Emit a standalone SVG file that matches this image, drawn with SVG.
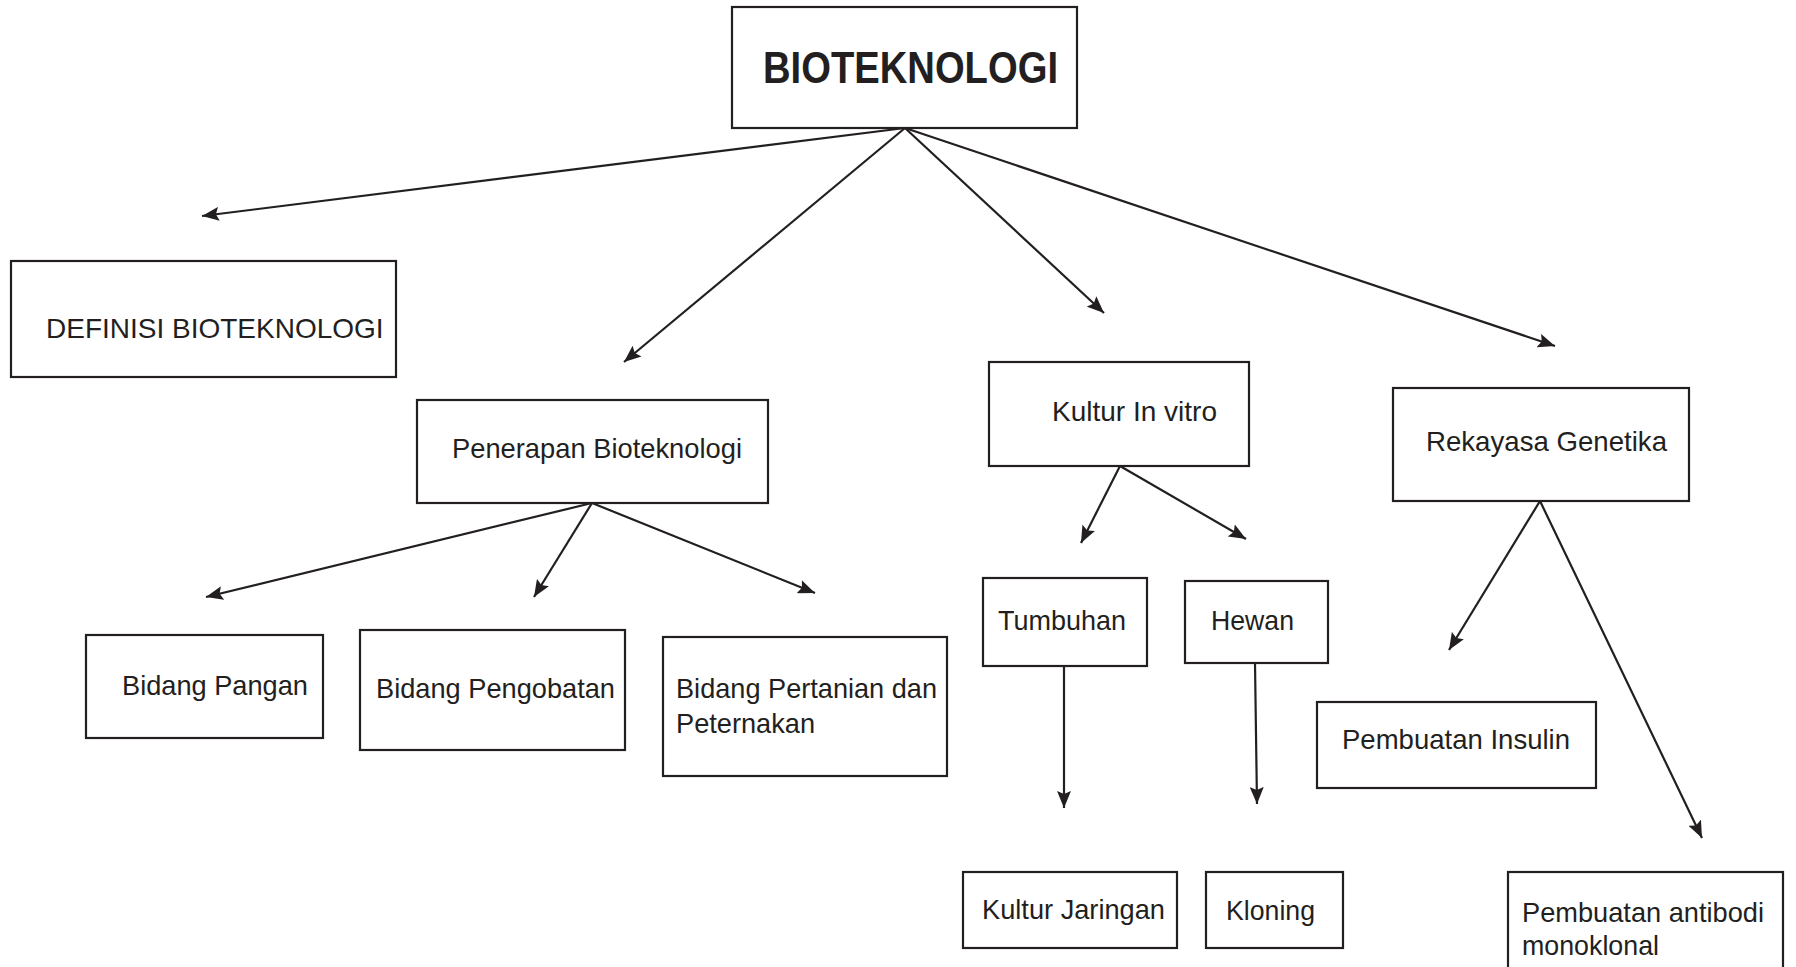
<svg xmlns="http://www.w3.org/2000/svg" width="1796" height="967" viewBox="0 0 1796 967">
<style>
.box{fill:#fff;stroke:#231f20;stroke-width:2.2}
.t{font-family:"Liberation Sans",Arial,sans-serif;font-size:28px;fill:#231f20}
.title{font-family:"Liberation Sans",Arial,sans-serif;font-size:44px;font-weight:bold;fill:#231f20}
.c line{stroke:#231f20;stroke-width:2.2;marker-end:url(#ah)}
</style>
<defs>
<marker id="ah" markerUnits="userSpaceOnUse" markerWidth="20" markerHeight="14" refX="17" refY="7" orient="auto">
<path d="M0,0 L17,7 L0,14 L3,7 z" fill="#231f20"/>
</marker>
</defs>
<rect width="1796" height="967" fill="#fff"/>
<g id="n-bio"><rect class="box" x="732" y="7" width="345" height="121"/><text class="title" x="763" y="83" textLength="295" lengthAdjust="spacingAndGlyphs">BIOTEKNOLOGI</text></g>
<g id="n-def"><rect class="box" x="11" y="261" width="385" height="116"/><text class="t" x="46" y="338">DEFINISI BIOTEKNOLOGI</text></g>
<g id="n-pen"><rect class="box" x="417" y="400" width="351" height="103"/><text class="t" x="452" y="458" textLength="290" lengthAdjust="spacingAndGlyphs">Penerapan Bioteknologi</text></g>
<g id="n-kiv"><rect class="box" x="989" y="362" width="260" height="104"/><text class="t" x="1052" y="421">Kultur In vitro</text></g>
<g id="n-rek"><rect class="box" x="1393" y="388" width="296" height="113"/><text class="t" x="1426" y="451" textLength="241" lengthAdjust="spacingAndGlyphs">Rekayasa Genetika</text></g>
<g id="n-pangan"><rect class="box" x="86" y="635" width="237" height="103"/><text class="t" x="122" y="695" textLength="186" lengthAdjust="spacingAndGlyphs">Bidang Pangan</text></g>
<g id="n-obat"><rect class="box" x="360" y="630" width="265" height="120"/><text class="t" x="376" y="698" textLength="239" lengthAdjust="spacingAndGlyphs">Bidang Pengobatan</text></g>
<g id="n-tani"><rect class="box" x="663" y="637" width="284" height="139"/><text class="t" x="676" y="698" textLength="261" lengthAdjust="spacingAndGlyphs">Bidang Pertanian dan</text><text class="t" x="676" y="733" textLength="139" lengthAdjust="spacingAndGlyphs">Peternakan</text></g>
<g id="n-tumb"><rect class="box" x="983" y="578" width="164" height="88"/><text class="t" x="998" y="630" textLength="128" lengthAdjust="spacingAndGlyphs">Tumbuhan</text></g>
<g id="n-hewan"><rect class="box" x="1185" y="581" width="143" height="82"/><text class="t" x="1211" y="630" textLength="83" lengthAdjust="spacingAndGlyphs">Hewan</text></g>
<g id="n-kj"><rect class="box" x="963" y="872" width="214" height="76"/><text class="t" x="982" y="919" textLength="183" lengthAdjust="spacingAndGlyphs">Kultur Jaringan</text></g>
<g id="n-klon"><rect class="box" x="1206" y="872" width="137" height="76"/><text class="t" x="1226" y="920" textLength="89" lengthAdjust="spacingAndGlyphs">Kloning</text></g>
<g id="n-ins"><rect class="box" x="1317" y="702" width="279" height="86"/><text class="t" x="1342" y="749" textLength="228" lengthAdjust="spacingAndGlyphs">Pembuatan Insulin</text></g>
<g id="n-anti"><rect class="box" x="1508" y="872" width="275" height="110"/><text class="t" x="1522" y="922" textLength="242" lengthAdjust="spacingAndGlyphs">Pembuatan antibodi</text><text class="t" x="1522" y="955" textLength="137" lengthAdjust="spacingAndGlyphs">monoklonal</text></g>
<g id="connectors" class="c">
<line x1="905" y1="128" x2="202" y2="216"/>
<line x1="905" y1="128" x2="624" y2="362"/>
<line x1="905" y1="128" x2="1104" y2="313"/>
<line x1="905" y1="128" x2="1555" y2="346"/>
<line x1="592" y1="503" x2="206" y2="597"/>
<line x1="592" y1="503" x2="534" y2="597"/>
<line x1="592" y1="503" x2="815" y2="593"/>
<line x1="1120" y1="466" x2="1081" y2="543"/>
<line x1="1120" y1="466" x2="1246" y2="539"/>
<line x1="1064" y1="666" x2="1064" y2="808"/>
<line x1="1255" y1="663" x2="1257" y2="804"/>
<line x1="1540" y1="501" x2="1449" y2="650"/>
<line x1="1540" y1="501" x2="1702" y2="838"/>
</g>
</svg>
